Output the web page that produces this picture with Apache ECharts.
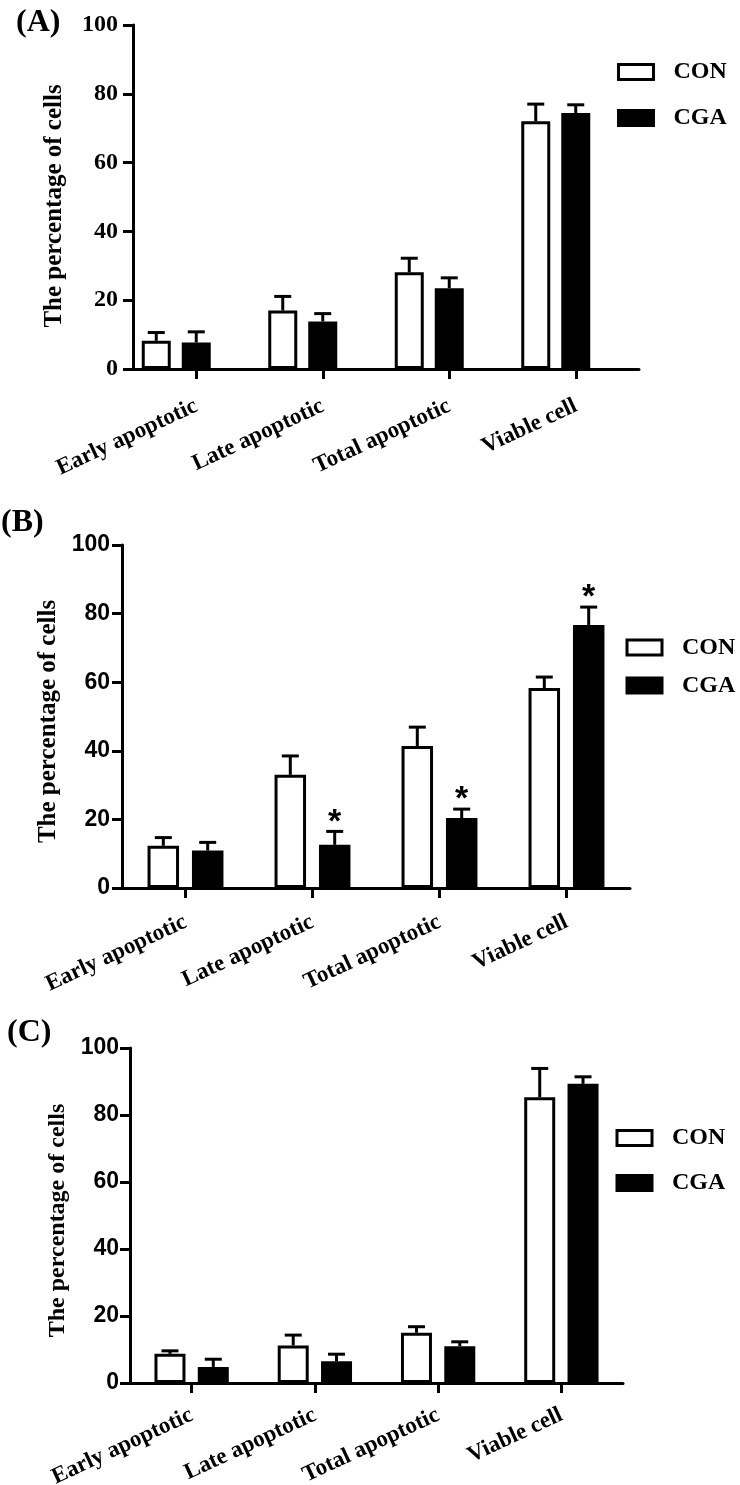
<!DOCTYPE html>
<html>
<head>
<meta charset="utf-8">
<script src="https://cdn.jsdelivr.net/npm/echarts@6/dist/echarts.min.js"></script>
<style>
  html, body { margin: 0; padding: 0; background: #fff; }
  #chart { width: 740px; height: 1485px; }
</style>
</head>
<body>
<div id="chart"></div>
<script>
// ---------------- DATA ----------------
const categories = ['Early apoptotic', 'Late apoptotic', 'Total apoptotic', 'Viable cell'];
const seriesNames = ['CON', 'CGA'];
const yTicks = [0, 20, 40, 60, 80, 100];
const yAxisTitle = 'The percentage of cells';
const panelLabels = ['(A)', '(B)', '(C)'];

// Panel A
const conA = [8.2, 17.0, 28.1, 72.0];
const conAErr = [2.4, 4.1, 4.1, 5.0];
const cgaA = [7.7, 13.8, 23.5, 74.4];
const cgaAErr = [3.1, 2.3, 3.0, 2.4];
const sigA = [0, 0, 0, 0];

// Panel B
const conB = [12.3, 33.0, 41.4, 58.3];
const conBErr = [2.4, 5.5, 5.5, 3.2];
const cgaB = [10.9, 12.6, 20.4, 76.7];
const cgaBErr = [2.4, 3.9, 2.6, 5.2];
const sigB = [0, 1, 1, 1];

// Panel C
const conC = [8.7, 11.2, 15.0, 85.3];
const conCErr = [0.9, 3.1, 1.8, 8.6];
const cgaC = [4.8, 6.5, 11.0, 89.3];
const cgaCErr = [2.3, 2.1, 1.3, 2.1];
const sigC = [0, 0, 0, 0];

// ---------------- STYLE ----------------
const SERIF = 'Liberation Serif';
const SANS = 'Liberation Sans';
const BORDER = 3;
const CAP_HALF = 8.5;
const STAR_SIZE = 34;
const STAR_OFFSET = 9;

const panels = [
  { grid: { left: 133, top: 25, width: 506, height: 344 }, barW: 29, gapPx: 11, pad: true,
    tickFont: SERIF, tickSize: 24, tickMargin: 15, nameGap: 66, nameSize: 25, namePad: [0, 18, 0, 0], xMargin: 36,
    con: conA, conErr: conAErr, cga: cgaA, cgaErr: cgaAErr, sig: sigA,
    legend: { left: 617, top: 60, itemGap: 22 }, title: { left: 16, top: 7 } },
  { grid: { left: 122, top: 545, width: 508, height: 343 }, barW: 31.5, gapPx: 12.9, pad: false,
    tickFont: SANS, tickSize: 23, tickMargin: 12, nameGap: 61, nameSize: 25, namePad: [0, 10, 0, 0], xMargin: 33,
    con: conB, conErr: conBErr, cga: cgaB, cgaErr: cgaBErr, sig: sigB,
    legend: { left: 625.5, top: 635.5, itemGap: 14 }, title: { left: 1, top: 507 } },
  { grid: { left: 130, top: 1048, width: 493, height: 335 }, barW: 31, gapPx: 12.3, pad: false,
    tickFont: SANS, tickSize: 23, tickMargin: 11, nameGap: 58, nameSize: 24, namePad: [0, 10, 0, 0], xMargin: 31,
    con: conC, conErr: conCErr, cga: cgaC, cgaErr: cgaCErr, sig: sigC,
    legend: { left: 615.5, top: 1126, itemGap: 21 }, title: { left: 7, top: 1017 } }
];

function errRenderer(offset) {
  return function (params, api) {
    const i = api.value(0), m = api.value(1), e = api.value(2), s = api.value(3);
    const p0 = api.coord([i, m]);
    const p1 = api.coord([i, m + e]);
    const x = p0[0] + offset;
    const children = [
      { type: 'line', shape: { x1: x, y1: p0[1], x2: x, y2: p1[1] }, style: { stroke: '#000', lineWidth: BORDER } },
      { type: 'line', shape: { x1: x - CAP_HALF, y1: p1[1], x2: x + CAP_HALF, y2: p1[1] }, style: { stroke: '#000', lineWidth: BORDER } }
    ];
    if (s) {
      children.push({ type: 'text', x: x, y: p1[1] - STAR_OFFSET,
        style: { text: '*', fill: '#000', font: 'bold ' + STAR_SIZE + 'px ' + SANS, align: 'center', verticalAlign: 'middle' } });
    }
    return { type: 'group', children: children };
  };
}

const option = {
  backgroundColor: '#fff',
  animation: false,
  title: [], grid: [], xAxis: [], yAxis: [], legend: [], series: []
};

panels.forEach(function (p, k) {
  option.title.push({ text: panelLabels[k], left: p.title.left, top: p.title.top, padding: 0,
    textStyle: { fontFamily: SERIF, fontWeight: 'bold', fontSize: 32, color: '#000' } });
  option.grid.push(Object.assign({ containLabel: false, outerBoundsMode: 'none' }, p.grid));
  option.xAxis.push({
    type: 'category', gridIndex: k, data: categories,
    axisLine: { show: true, lineStyle: { color: '#000', width: BORDER } },
    axisTick: { show: true, alignWithLabel: true, length: 10, lineStyle: { color: '#000', width: BORDER } },
    axisLabel: { rotate: 25, margin: p.xMargin, interval: 0, color: '#000', fontFamily: SERIF, fontWeight: 'bold', fontSize: 23 },
    splitLine: { show: false }
  });
  option.yAxis.push({
    type: 'value', gridIndex: k, min: yTicks[0], max: yTicks[yTicks.length - 1], interval: yTicks[1] - yTicks[0],
    name: yAxisTitle, nameLocation: 'middle', nameRotate: 90, nameGap: p.nameGap,
    nameTextStyle: { fontFamily: SERIF, fontWeight: 'bold', fontSize: p.nameSize, color: '#000', padding: p.namePad },
    axisLine: { show: true, lineStyle: { color: '#000', width: BORDER } },
    axisTick: { show: true, length: 10, lineStyle: { color: '#000', width: BORDER } },
    axisLabel: { margin: p.tickMargin, color: '#000', fontFamily: p.tickFont, fontWeight: 'bold', fontSize: p.tickSize },
    splitLine: { show: false }
  });
  option.legend.push({
    data: seriesNames, orient: 'vertical', left: p.legend.left, top: p.legend.top, itemGap: p.legend.itemGap,
    itemWidth: 35, itemHeight: 15, icon: 'rect', padding: 0, selectedMode: false,
    itemStyle: { borderColor: '#000', borderWidth: BORDER },
    textStyle: { fontFamily: SERIF, fontWeight: 'bold', fontSize: 24, color: '#000', lineHeight: 24, padding: [0, 0, 0, 15] }
  });
  const gapPct = (p.gapPx / p.barW * 100).toFixed(1) + '%';
  const barCommon = { type: 'bar', xAxisIndex: k, yAxisIndex: k, barWidth: p.barW, barGap: gapPct, z: 2 };
  option.series.push(Object.assign({}, barCommon, { name: 'CON', data: p.con,
    itemStyle: { color: '#fff', borderColor: '#000', borderWidth: BORDER } }));
  option.series.push(Object.assign({}, barCommon, { name: 'CGA', data: p.cga,
    itemStyle: { color: '#000', borderColor: '#000', borderWidth: BORDER } }));
  let conOff, cgaOff;
  const pitch = p.barW + p.gapPx;
  if (p.pad) {
    // GraphPad layout of panel A: the tick sits under the CGA bar
    option.series.push(Object.assign({}, barCommon, { name: '_pad', data: categories.map(function () { return null; }),
      itemStyle: { color: 'transparent' }, silent: true }));
    conOff = -pitch; cgaOff = 0;
  } else {
    conOff = -pitch / 2; cgaOff = pitch / 2;
  }
  option.series.push({ type: 'custom', name: 'CON err', xAxisIndex: k, yAxisIndex: k, z: 3,
    renderItem: errRenderer(conOff),
    data: p.con.map(function (v, i) { return [i, v, p.conErr[i], 0]; }) });
  option.series.push({ type: 'custom', name: 'CGA err', xAxisIndex: k, yAxisIndex: k, z: 3,
    renderItem: errRenderer(cgaOff),
    data: p.cga.map(function (v, i) { return [i, v, p.cgaErr[i], p.sig[i]]; }) });
});

const chart = echarts.init(document.getElementById('chart'), null, { renderer: 'canvas' });
chart.setOption(option);
</script>
</body>
</html>
